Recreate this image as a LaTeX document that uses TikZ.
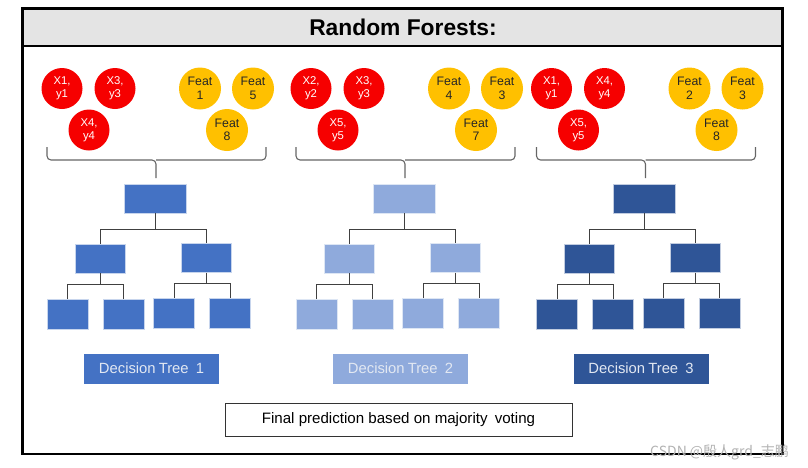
\documentclass[tikz,border=0pt]{standalone}
\usepackage{fontspec}
\setmainfont{Liberation Sans}
\newfontfamily\cjkfont{Noto Sans CJK SC}
\definecolor{tblueA}{HTML}{4472C4}
\definecolor{tblueB}{HTML}{8FAADC}
\definecolor{tblueC}{HTML}{2F5597}
\definecolor{cred}{HTML}{F60000}
\definecolor{cyel}{HTML}{FFC000}
\definecolor{bandgray}{HTML}{E4E4E4}
\definecolor{labtxt}{HTML}{E2E8F2}
\tikzset{
  frameline/.style={line width=2.6pt, draw=black},
  redball/.style={circle, fill=cred, minimum size=41pt, inner sep=0pt, text=white, align=center, font=\fontsize{11.3}{13}\selectfont},
  yelball/.style={circle, fill=cyel, minimum size=42pt, inner sep=0pt, text=black!85, align=center, font=\fontsize{12.3}{13.5}\selectfont},
  bracepath/.style={draw=black!60, line width=1.1pt, rounded corners=4pt},
  rootbox/.style={rectangle, minimum width=62pt, minimum height=29pt, inner sep=0pt, draw=white!70!#1, line width=0.6pt, fill=#1},
  midbox/.style={rectangle, minimum width=50pt, minimum height=29pt, inner sep=0pt, draw=white!70!#1, line width=0.6pt, fill=#1},
  leafbox/.style={rectangle, minimum width=41pt, minimum height=30pt, inner sep=0pt, draw=white!70!#1, line width=0.6pt, fill=#1},
  edge/.style={draw=black!75, line width=1pt},
  treelabel/.style={rectangle, minimum width=135pt, minimum height=30pt, inner sep=0pt, fill=#1, text=labtxt, font=\fontsize{14.8}{16}\selectfont},
}
\begin{document}
\begin{tikzpicture}[x=1pt, y=-1pt]
\useasboundingbox (0,0) rectangle (808,467);
% frame
\fill[bandgray] (22.7,8.5) rectangle (782.7,46);
\draw[frameline] (22.7,8.5) rectangle (782.7,454);
\draw[frameline] (22.7,46) -- (782.7,46);
\node[font=\bfseries\fontsize{22.8}{25}\selectfont] (title) at (403,27.5) {Random Forests:};

% three groups
\foreach \i/\dx/\col/\ra/\rb/\rc/\fa/\fb/\fc in {
  1/0/tblueA/{X1,\\y1}/{X3,\\y3}/{X4,\\y4}/{Feat\\1}/{Feat\\5}/{Feat\\8},
  2/249/tblueB/{X2,\\y2}/{X3,\\y3}/{X5,\\y5}/{Feat\\4}/{Feat\\3}/{Feat\\7},
  3/489.5/tblueC/{X1,\\y1}/{X4,\\y4}/{X5,\\y5}/{Feat\\2}/{Feat\\3}/{Feat\\8}}{
  \begin{scope}[xshift=\dx]
    \node[redball] (r\i a) at (62,88.5) {\ra};
    \node[redball] (r\i b) at (115,88.5) {\rb};
    \node[redball] (r\i c) at (89,130) {\rc};
    \node[yelball] (f\i a) at (200,88.5) {\fa};
    \node[yelball] (f\i b) at (253,88.5) {\fb};
    \node[yelball] (f\i c) at (227,130) {\fc};
    % brace
    \coordinate (bl\i) at (47,147);
    \coordinate (br\i) at (266,147);
    \coordinate (bt\i) at (156,178);
    \draw[bracepath] (bl\i) -- (47,160) -- (156,160) -- (bt\i);
    \draw[bracepath] (br\i) -- (266,160) -- (156,160);
    % tree
    \node[rootbox=\col] (t\i r) at (155,198.5) {};
    \node[midbox=\col] (t\i L) at (100,258.5) {};
    \node[midbox=\col] (t\i R) at (206,258) {};
    \node[leafbox=\col] (t\i a) at (67.5,314.5) {};
    \node[leafbox=\col] (t\i b) at (123.5,314.5) {};
    \node[leafbox=\col] (t\i c) at (174,313.5) {};
    \node[leafbox=\col] (t\i d) at (230,313.5) {};
    \draw[edge] (t\i r.south) -- +(0,16) -| (t\i L.north);
    \draw[edge] (t\i r.south) -- +(0,16) -| (t\i R.north);
    \draw[edge] (t\i L.south) -- +(0,11) -| (t\i a.north);
    \draw[edge] (t\i L.south) -- +(0,11) -| (t\i b.north);
    \draw[edge] (t\i R.south) -- +(0,11) -| (t\i c.north);
    \draw[edge] (t\i R.south) -- +(0,11) -| (t\i d.north);
    \node[treelabel=\col] (lab\i) at (151.5,368.5) {Decision\hspace{-1pt} Tree\hspace{3pt} \i};
  \end{scope}
}
\node[draw=black!80, line width=0.9pt, minimum width=347pt, minimum height=33pt, inner sep=0pt, font=\fontsize{15.1}{17}\selectfont] (final) at (398.5,419.5) {Final prediction based on majority\hspace{3pt} voting};
\node[anchor=west, text=black!30, font=\cjkfont\fontsize{14}{16}\selectfont, inner sep=0pt] (wm) at (650,452) {CSDN @殷人grd\_志鹏};
\end{tikzpicture}
\end{document}
